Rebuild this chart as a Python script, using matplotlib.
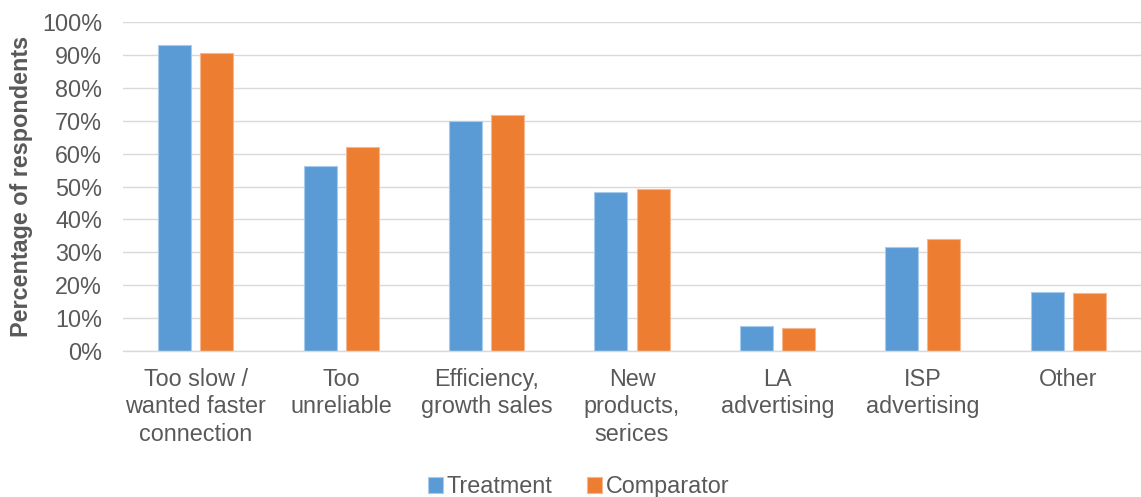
import matplotlib
matplotlib.use("Agg")
import matplotlib.pyplot as plt
import numpy as np
from matplotlib.ticker import PercentFormatter

categories = [
    "Too slow /\nwanted faster\nconnection",
    "Too\nunreliable",
    "Efficiency,\ngrowth sales",
    "New\nproducts,\nserices",
    "LA\nadvertising",
    "ISP\nadvertising",
    "Other",
]
treatment = [93.1, 56.3, 70.0, 48.3, 7.5, 31.6, 18.0]
comparator = [90.5, 62.0, 71.8, 49.2, 7.1, 34.0, 17.5]
yticks = list(range(0, 101, 10))

plt.rcParams["font.family"] = ["Liberation Sans", "DejaVu Sans"]
TEXT = "#595959"
GRID = "#D9D9D9"
FS = 16.8

fig = plt.figure(figsize=(11.41, 4.97), dpi=100)
ax = fig.add_axes([123 / 1141, 146 / 497, 1 - 123 / 1141, 329 / 497])

x = np.arange(len(categories))
w = 0.227
gap = 0.062
ax.bar(x - (w + gap) / 2, treatment, w, color="#5B9BD5", edgecolor="#A9CBEA",
       linewidth=0.8, label="Treatment", zorder=3)
ax.bar(x + (w + gap) / 2, comparator, w, color="#ED7D31", edgecolor="#F5B790",
       linewidth=0.8, label="Comparator", zorder=3)

ax.set_xlim(-0.5, len(categories) - 0.5)
ax.set_ylim(0, 100)
ax.set_yticks(yticks)
ax.yaxis.set_major_formatter(PercentFormatter(decimals=0))
ax.set_xticks(x)
ax.set_xticklabels(categories, linespacing=1.25)
ax.tick_params(axis="y", length=0, pad=15, labelsize=FS, labelcolor=TEXT)
ax.tick_params(axis="x", length=0, pad=12, labelsize=FS, labelcolor=TEXT)
ax.grid(axis="y", color=GRID, linewidth=1.0, zorder=0)
for side in ["top", "right", "left"]:
    ax.spines[side].set_visible(False)
ax.spines["bottom"].set_color(GRID)
ax.spines["bottom"].set_linewidth(1.0)
ax.spines["bottom"].set_zorder(4)

ax.set_ylabel("Percentage of respondents", fontsize=FS, fontweight="bold",
              color=TEXT)
ax.yaxis.set_label_coords(-90 / 1018, 0.5)

fig.legend(loc="lower center", bbox_to_anchor=(0.507, -0.045), ncol=2, frameon=False,
           fontsize=FS, labelcolor=TEXT, handlelength=0.65, handleheight=0.65,
           handletextpad=0.15, columnspacing=1.5)

fig.savefig("out.png", dpi=100)
